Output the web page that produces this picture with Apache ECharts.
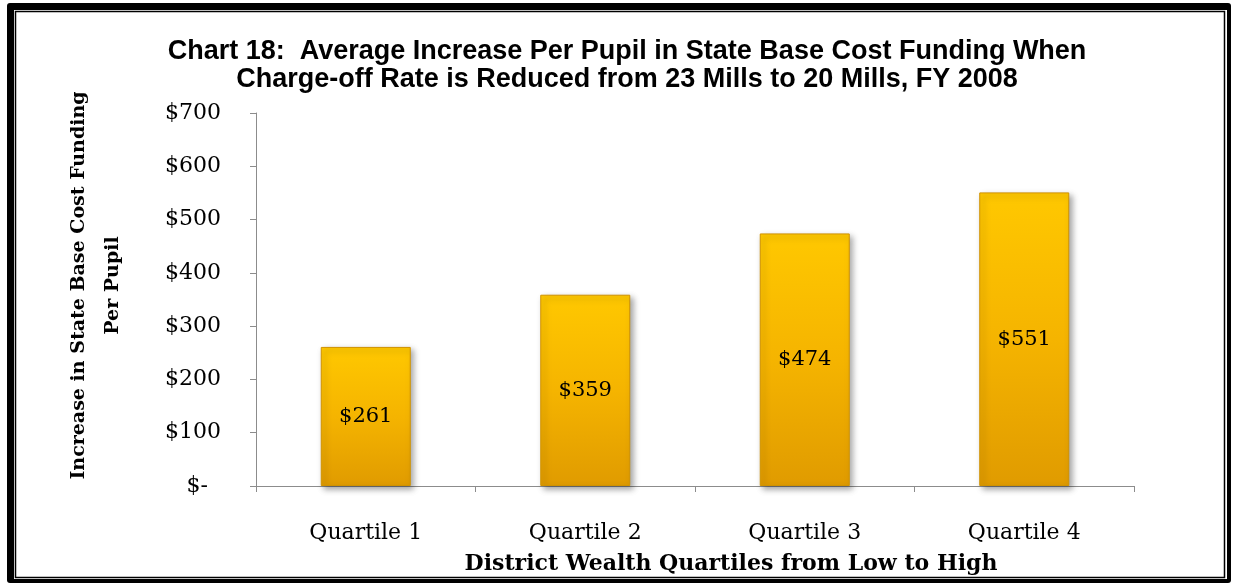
<!DOCTYPE html>
<html>
<head>
<meta charset="utf-8">
<script src="https://cdn.jsdelivr.net/npm/echarts@6/dist/echarts.min.js"></script>
<style>
  html, body { margin: 0; padding: 0; background: #fff; }
  #chart { width: 1233px; height: 585px; }
</style>
</head>
<body>
<div id="chart"></div>
<script>
// Average per-pupil increase in state base cost funding, by wealth quartile
const categories = ['Quartile 1', 'Quartile 2', 'Quartile 3', 'Quartile 4'];
const increasePerPupil = [261, 359, 474, 551];
const yTickValues = [0, 100, 200, 300, 400, 500, 600, 700];

const serif = '"DejaVu Serif", "Liberation Serif", serif';
const sans = '"Liberation Sans", Arial, sans-serif';

function dollars(v) {
  return '$' + v;
}

const chart = echarts.init(document.getElementById('chart'), null, { renderer: 'canvas' });

chart.setOption({
  animation: false,
  backgroundColor: '#ffffff',
  title: {
    text: 'Chart 18:  Average Increase Per Pupil in State Base Cost Funding When\nCharge-off Rate is Reduced from 23 Mills to 20 Mills, FY 2008',
    left: 622,
    top: 33,
    textAlign: 'center',
    textStyle: {
      fontFamily: sans,
      fontWeight: 'bold',
      fontSize: 27,
      lineHeight: 28,
      color: '#000'
    }
  },
  graphic: [
    { type: 'rect', z: -10, shape: { x: 7, y: 3, width: 1224, height: 580, r: 3 }, style: { fill: '#000' } },
    { type: 'rect', z: -9, shape: { x: 14, y: 10, width: 1213, height: 569 }, style: { fill: '#fff' } },
    { type: 'rect', z: -8, shape: { x: 15.5, y: 11.5, width: 1209, height: 566 }, style: { fill: 'none', stroke: '#000', lineWidth: 1.5 } }
  ],
  grid: {
    left: 256,
    right: 99,
    top: 113,
    bottom: 99,
    containLabel: false
  },
  xAxis: {
    type: 'category',
    data: categories,
    name: 'District Wealth Quartiles from Low to High',
    nameLocation: 'middle',
    nameGap: 67,
    nameTextStyle: { fontFamily: serif, fontWeight: 'bold', fontSize: 22, color: '#000', padding: [0, 0, 0, 72] },
    axisLine: { lineStyle: { color: '#8c8c8c', width: 1 } },
    axisTick: { show: true, alignWithLabel: false, length: 6, lineStyle: { color: '#8c8c8c' } },
    axisLabel: { fontFamily: serif, fontSize: 22, color: '#000', margin: 36 }
  },
  yAxis: {
    type: 'value',
    min: 0,
    max: 700,
    interval: 100,
    name: 'Increase in State Base Cost Funding\nPer Pupil',
    nameLocation: 'middle',
    nameGap: 126,
    nameRotate: 90,
    nameTextStyle: { fontFamily: serif, fontWeight: 'bold', fontSize: 19, lineHeight: 34, color: '#000', padding: [0, 0, 0, 28] },
    axisLine: { show: true, lineStyle: { color: '#8c8c8c', width: 1 } },
    axisTick: { show: true, length: 6, lineStyle: { color: '#8c8c8c' } },
    splitLine: { show: false },
    axisLabel: {
      fontFamily: serif,
      fontSize: 22,
      color: '#000',
      margin: 35,
      formatter: function (v) {
        if (yTickValues.indexOf(v) < 0) return '';
        return v === 0 ? '{zero|$-}' : dollars(v);
      },
      rich: {
        zero: { fontFamily: serif, fontSize: 22, color: '#000', padding: [0, 13, 0, 0] }
      }
    }
  },
  series: [{
    type: 'bar',
    data: increasePerPupil,
    barWidth: 90,
    itemStyle: {
      color: new echarts.graphic.LinearGradient(0, 0, 0, 1, [
        { offset: 0, color: '#ffc800' },
        { offset: 0.5, color: '#f5b400' },
        { offset: 1, color: '#e09b00' }
      ]),
      borderColor: '#d09200',
      borderWidth: 1,
      shadowColor: 'rgba(0,0,0,0.35)',
      shadowBlur: 6,
      shadowOffsetX: 3,
      shadowOffsetY: 3
    },
    label: {
      show: true,
      position: 'inside',
      fontFamily: serif,
      fontSize: 21,
      color: '#000',
      formatter: function (p) { return dollars(p.value); }
    }
  }]
});
</script>
</body>
</html>
